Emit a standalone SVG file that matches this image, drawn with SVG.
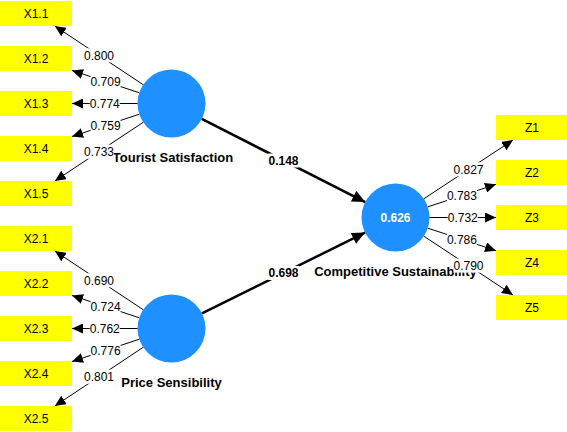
<svg xmlns="http://www.w3.org/2000/svg" width="567" height="432" viewBox="0 0 567 432">
<defs>
<style>
.ind rect{fill:#ffff00;}
.ind text{font-family:"Liberation Sans",Arial,sans-serif;font-size:12px;fill:#000;text-anchor:middle;}
.lv circle{fill:#1e90ff;}
.lv text.name{font-family:"Liberation Sans",Arial,sans-serif;font-size:13px;font-weight:bold;fill:#000;text-anchor:middle;}
.lv text.r2{font-family:"Liberation Sans",Arial,sans-serif;font-size:12px;font-weight:bold;fill:#fff;text-anchor:middle;}
.ld{stroke:#000;stroke-width:1;fill:none;marker-end:url(#ah);}
.pc{stroke:#000;stroke-width:2.5;fill:none;marker-end:url(#ahb);}
.lb rect{fill:#fff;}
.lb text{font-family:"Liberation Sans",Arial,sans-serif;font-size:12px;fill:#000;text-anchor:middle;}
.lb text.b{font-weight:bold;}
</style>
<marker id="ah" viewBox="0 0 11 10" refX="11" refY="5" markerWidth="11" markerHeight="10" markerUnits="userSpaceOnUse" orient="auto"><path d="M0,0 L11,5 L0,10 z" fill="#000"/></marker>
<marker id="ahb" viewBox="0 0 13 12" refX="13" refY="6" markerWidth="13" markerHeight="12" markerUnits="userSpaceOnUse" orient="auto"><path d="M0,0 L13,6 L0,12 z" fill="#000"/></marker>
</defs>
<rect x="0" y="0" width="567" height="432" fill="#fff"/>

<g id="X1.1" class="ind"><rect x="0" y="1" width="72" height="25"/><text x="36" y="17.8">X1.1</text></g>
<g id="X1.2" class="ind"><rect x="0" y="46" width="72" height="25"/><text x="36" y="62.8">X1.2</text></g>
<g id="X1.3" class="ind"><rect x="0" y="91" width="72" height="25"/><text x="36" y="107.8">X1.3</text></g>
<g id="X1.4" class="ind"><rect x="0" y="136" width="72" height="25"/><text x="36" y="152.8">X1.4</text></g>
<g id="X1.5" class="ind"><rect x="0" y="181" width="72" height="25"/><text x="36" y="197.8">X1.5</text></g>

<g id="X2.1" class="ind"><rect x="0" y="226" width="72" height="25"/><text x="36" y="242.8">X2.1</text></g>
<g id="X2.2" class="ind"><rect x="0" y="271" width="72" height="25"/><text x="36" y="287.8">X2.2</text></g>
<g id="X2.3" class="ind"><rect x="0" y="316" width="72" height="25"/><text x="36" y="332.8">X2.3</text></g>
<g id="X2.4" class="ind"><rect x="0" y="361" width="72" height="25"/><text x="36" y="377.8">X2.4</text></g>
<g id="X2.5" class="ind"><rect x="0" y="406" width="72" height="25"/><text x="36" y="422.8">X2.5</text></g>

<g id="Z1" class="ind"><rect x="496" y="115" width="72" height="25"/><text x="532" y="131.8">Z1</text></g>
<g id="Z2" class="ind"><rect x="496" y="160" width="72" height="25"/><text x="532" y="176.8">Z2</text></g>
<g id="Z3" class="ind"><rect x="496" y="205" width="72" height="25"/><text x="532" y="221.8">Z3</text></g>
<g id="Z4" class="ind"><rect x="496" y="250" width="72" height="25"/><text x="532" y="266.8">Z4</text></g>
<g id="Z5" class="ind"><rect x="496" y="295" width="72" height="25"/><text x="532" y="311.8">Z5</text></g>

<g id="TouristSatisfaction" class="lv"><circle cx="171.5" cy="103.5" r="34"/><text class="name" x="173" y="162">Tourist Satisfaction</text></g>
<g id="PriceSensibility" class="lv"><circle cx="171.5" cy="328.5" r="34"/><text class="name" x="171.5" y="387">Price Sensibility</text></g>
<g id="CompetitiveSustainability" class="lv"><circle cx="395.5" cy="217.5" r="34"/><text class="r2" x="395.5" y="221.8">0.626</text><text class="name" x="395.5" y="276">Competitive Sustainability</text></g>

<g id="connectors">
<line class="ld" x1="143.18" y1="84.69" x2="54.82" y2="26"/>
<line class="ld" x1="139.23" y1="92.78" x2="72" y2="70.46"/>
<line class="ld" x1="137.5" y1="103.5" x2="72" y2="103.5"/>
<line class="ld" x1="139.23" y1="114.22" x2="72" y2="136.54"/>
<line class="ld" x1="143.18" y1="122.31" x2="54.82" y2="181"/>

<line class="ld" x1="143.18" y1="309.69" x2="54.82" y2="251"/>
<line class="ld" x1="139.23" y1="317.78" x2="72" y2="295.46"/>
<line class="ld" x1="137.5" y1="328.5" x2="72" y2="328.5"/>
<line class="ld" x1="139.23" y1="339.22" x2="72" y2="361.54"/>
<line class="ld" x1="143.18" y1="347.31" x2="54.82" y2="406"/>

<line class="ld" x1="423.89" y1="198.78" x2="513.04" y2="140"/>
<line class="ld" x1="427.79" y1="206.85" x2="496" y2="184.37"/>
<line class="ld" x1="429.5" y1="217.5" x2="496" y2="217.5"/>
<line class="ld" x1="427.79" y1="228.15" x2="496" y2="250.63"/>
<line class="ld" x1="423.89" y1="236.22" x2="513.04" y2="295"/>

<line class="pc" x1="201.8" y1="118.92" x2="365.2" y2="202.08"/>
<line class="pc" x1="201.96" y1="313.4" x2="365.04" y2="232.6"/>

<g class="lb">
<rect x="84" y="48.3" width="30" height="14"/><text x="99" y="59.6">0.800</text>
<rect x="90.6" y="74.6" width="30" height="14"/><text x="105.6" y="85.9">0.709</text>
<rect x="89.75" y="96.5" width="30" height="14"/><text x="104.75" y="107.8">0.774</text>
<rect x="90.6" y="118.4" width="30" height="14"/><text x="105.6" y="129.7">0.759</text>
<rect x="84" y="144.7" width="30" height="14"/><text x="99" y="156">0.733</text>

<rect x="84" y="273.3" width="30" height="14"/><text x="99" y="284.6">0.690</text>
<rect x="90.6" y="299.6" width="30" height="14"/><text x="105.6" y="310.9">0.724</text>
<rect x="89.75" y="321.5" width="30" height="14"/><text x="104.75" y="332.8">0.762</text>
<rect x="90.6" y="343.4" width="30" height="14"/><text x="105.6" y="354.7">0.776</text>
<rect x="84" y="369.7" width="30" height="14"/><text x="99" y="381">0.801</text>

<rect x="453.5" y="162.4" width="30" height="14"/><text x="468.5" y="173.7">0.827</text>
<rect x="446.9" y="188.6" width="30" height="14"/><text x="461.9" y="199.9">0.783</text>
<rect x="447.75" y="210.5" width="30" height="14"/><text x="462.75" y="221.8">0.732</text>
<rect x="446.9" y="232.4" width="30" height="14"/><text x="461.9" y="243.7">0.786</text>
<rect x="453.5" y="258.6" width="30" height="14"/><text x="468.5" y="269.9">0.790</text>

<rect x="267.5" y="153.5" width="32" height="14"/><text class="b" x="283.5" y="164.8">0.148</text>
<rect x="267.5" y="266" width="32" height="14"/><text class="b" x="283.5" y="277.3">0.698</text>
</g>
</g>
</svg>
